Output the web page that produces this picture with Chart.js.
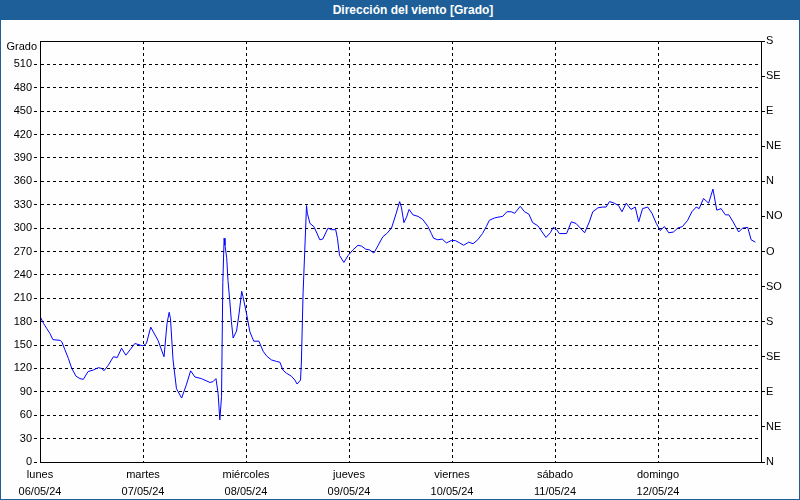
<!DOCTYPE html>
<html>
<head>
<meta charset="utf-8">
<script src="https://cdn.jsdelivr.net/npm/chart.js@4.4.0/dist/chart.umd.min.js"></script>
<style>
  body { margin: 0; background: #fff; }
  #win { position: relative; width: 800px; height: 500px; background: #fdfefd; }
  #bar { height: 20px; background: #1e5f99; color: #fff; font: bold 12px "Liberation Sans", sans-serif;
         text-align: center; line-height: 20px; padding-left: 26px; box-sizing: border-box; }
  #frame { position: absolute; left: 0; top: 0; right: 0; bottom: 0; border: 1px solid #1e5f99;
           box-sizing: border-box; pointer-events: none; }
  canvas { display: block; }
</style>
</head>
<body>
<div id="win">
  <div id="bar">Dirección del viento [Grado]</div>
  <canvas id="viento" width="800" height="480"></canvas>
  <div id="frame"></div>
</div>
<script>
// horas desde lunes 06/05/24 00:00
const horas = [0, 0.8, 1.6, 2.3, 3.0, 4.7, 5.1, 5.8, 6.6, 7.4, 8.4, 9.3, 10.1, 11.2, 12.4, 13.6, 14.4, 14.9, 15.9, 17.1,
  18.0, 19.0, 20.0, 21.0, 22.1, 23.3, 24.0, 24.8, 25.8, 27.5, 28.9, 29.6, 30.1, 30.4, 31.0, 31.8, 33.0, 34.1, 35.1, 36.1,
  37.6, 39.6, 40.3, 41.0, 41.5, 41.9, 42.3, 42.6, 42.9, 43.1, 43.5, 43.8, 44.2, 44.6, 45.0, 45.8, 46.4, 47.0, 47.3, 48.1,
  48.9, 49.8, 51.0, 52.0, 52.8, 53.9, 55.1, 55.9, 56.6, 57.4, 58.6, 59.4, 59.9, 60.7, 60.9, 61.3, 61.7, 62.1, 62.3, 62.9,
  63.8, 64.4, 65.2, 65.9, 67.1, 67.9, 68.9, 69.3, 69.8, 70.8, 71.8, 72.9, 74.1, 74.9, 75.9, 76.8, 77.8, 78.8, 79.9, 80.8,
  81.9, 83.0, 83.8, 84.2, 84.8, 85.4, 86.0, 86.9, 88.1, 89.2, 90.4, 91.2, 91.7, 92.7, 93.7, 94.7, 95.8, 96.8, 97.8, 98.7,
  99.9, 100.9, 102.0, 103.1, 104.0, 104.7, 105.9, 106.7, 107.8, 108.8, 109.8, 110.6, 111.9, 112.9, 113.9, 114.8, 116.0, 117.0, 117.9, 118.9,
  119.6, 120.4, 121.0, 122.7, 123.8, 124.9, 125.9, 126.9, 128.0, 128.8, 130.0, 131.1, 131.9, 132.7, 133.8, 134.8, 135.6, 136.6, 137.7, 138.7,
  139.5, 140.4, 141.6, 142.6, 143.6, 144.5, 145.5, 146.5, 147.6, 148.6, 149.7, 150.9, 151.9, 152.9, 153.6, 154.6, 155.8, 156.8, 157.7, 158.7,
  159.7, 160.5, 161.5, 162.8, 163.7, 164.9, 165.7, 166.7];
const grados = [187, 178, 171, 165, 157, 156, 154, 144, 133, 120, 110, 107, 106, 116, 118, 121, 120, 117, 124, 135,
  134, 146, 137, 144, 152, 150, 149, 152, 173, 156, 135, 178, 192, 184, 131, 94, 82, 99, 117, 109,
  107, 102, 103, 107, 88, 54, 84, 230, 287, 278, 262, 233, 208, 180, 159, 168, 191, 219, 212, 191,
  167, 155, 155, 142, 136, 131, 129, 128, 118, 114, 110, 105, 100, 105, 127, 217, 272, 329, 319, 306,
  302, 295, 285, 286, 300, 298, 298, 287, 265, 256, 265, 272, 278, 277, 273, 272, 268, 278, 289, 293,
  300, 319, 334, 327, 307, 314, 324, 317, 315, 311, 302, 293, 287, 285, 286, 281, 284, 284, 281, 278,
  282, 280, 285, 293, 302, 310, 313, 314, 315, 321, 321, 319, 328, 321, 318, 307, 303, 295, 288, 294,
  301, 298, 293, 293, 308, 306, 300, 294, 308, 321, 326, 327, 327, 334, 332, 329, 321, 332, 324, 327,
  308, 325, 327, 319, 306, 297, 302, 294, 295, 300, 302, 310, 321, 327, 325, 338, 332, 350, 323, 325,
  317, 317, 308, 295, 300, 301, 285, 282];

const dias = ['lunes', 'martes', 'miércoles', 'jueves', 'viernes', 'sábado', 'domingo'];
const fechas = ['06/05/24', '07/05/24', '08/05/24', '09/05/24', '10/05/24', '11/05/24', '12/05/24'];
const rumbos = ['N', 'NE', 'E', 'SE', 'S', 'SO', 'O', 'NO'];

const fuente = { family: '"Liberation Sans", sans-serif', size: 11 };

const marco = {
  id: 'marco',
  afterDraw(chart) {
    const { ctx, chartArea: a } = chart;
    ctx.save();
    ctx.strokeStyle = '#000';
    ctx.lineWidth = 1;
    ctx.strokeRect(Math.round(a.left) + 0.5, Math.round(a.top) + 0.5,
      Math.round(a.right - a.left), Math.round(a.bottom - a.top));
    ctx.fillStyle = '#000';
    ctx.font = '11px "Liberation Sans", sans-serif';
    ctx.textAlign = 'right';
    ctx.textBaseline = 'middle';
    ctx.fillText('Grado', a.left - 3, a.top + 6);
    ctx.restore();
  }
};

new Chart(document.getElementById('viento'), {
  type: 'line',
  data: {
    datasets: [{
      data: horas.map((h, i) => ({ x: h, y: grados[i] })),
      borderColor: '#0000ff',
      borderWidth: 1,
      pointRadius: 0,
      tension: 0,
      fill: false
    }]
  },
  options: {
    responsive: false,
    animation: false,
    devicePixelRatio: 1,
    layout: { padding: { top: 21, left: 0, right: 0, bottom: 0 } },
    plugins: { legend: { display: false }, tooltip: { enabled: false } },
    scales: {
      x: {
        type: 'linear',
        min: 0,
        max: 168,
        afterFit: (s) => { s.height = 38; },
        grid: { color: '#000', drawTicks: false },
        border: { color: '#000', dash: [3, 3] },
        ticks: {
          stepSize: 24,
          autoSkip: false,
          maxRotation: 0,
          padding: 5,
          color: '#000',
          font: { ...fuente, lineHeight: 1.5 },
          callback: (v) => (v % 24 === 0 && v / 24 < dias.length) ? [dias[v / 24], fechas[v / 24]] : ''
        }
      },
      y: {
        position: 'left',
        min: 0,
        max: 540,
        afterFit: (s) => { s.width = 40; },
        grid: {
          color: (c) => (c.tick && c.tick.value === 540) ? 'rgba(0,0,0,0)' : '#000',
          tickLength: 6,
          tickBorderDash: [3, 3]
        },
        border: { color: '#000', dash: [3, 3] },
        ticks: {
          stepSize: 30,
          padding: 2,
          color: '#000',
          font: fuente,
          callback: (v) => v === 540 ? '' : v
        }
      },
      y2: {
        position: 'right',
        min: 0,
        max: 540,
        afterFit: (s) => { s.width = 39; },
        grid: { drawOnChartArea: false, color: '#000', tickLength: 4 },
        border: { color: '#000' },
        ticks: {
          stepSize: 45,
          padding: 1,
          color: '#000',
          font: fuente,
          callback: (v) => rumbos[(v / 45) % 8]
        }
      }
    }
  },
  plugins: [marco]
});
</script>
</body>
</html>
